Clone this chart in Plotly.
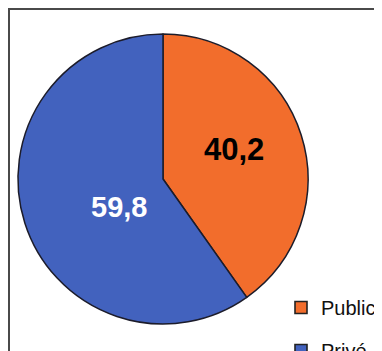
import plotly.graph_objects as go

labels = ["Public", "Privé"]
values = [40.2, 59.8]
colors = ["#F26D2C", "#4262BE"]
label_colors = ["#000000", "#FFFFFF"]

# figure size; the page adds an 8px body margin, so page pixel P = figure pixel + 8
W, H = 374, 360
OFF = 8

def px_x(x):
    return (x - OFF) / W

def px_y(y):
    return 1 - (y - OFF) / H

fig = go.Figure()

fig.add_trace(go.Pie(
    labels=labels,
    values=values,
    sort=False,
    direction="clockwise",
    rotation=0,
    marker=dict(colors=colors, line=dict(color="#1c1c2a", width=1.5)),
    textinfo="none",
    hoverinfo="label+value",
    showlegend=False,
    domain=dict(x=[px_x(18), px_x(308)], y=[px_y(324), px_y(34)]),
))

# legend entries built from the labels/colors
for lab, col in zip(labels, colors):
    fig.add_trace(go.Scatter(
        x=[None], y=[None], mode="markers", name=lab,
        legendgroup=lab,
        marker=dict(symbol="square", size=12, color=col,
                    line=dict(color="#222222", width=1.6)),
        showlegend=True,
    ))

# value labels
label_pos = [(234, 150), (119, 207)]
label_fonts = [
    dict(family="Arial", size=31, color=label_colors[0], weight="bold"),
    dict(family="Arial", size=29, color=label_colors[1], weight="bold"),
]
for v, (lx, ly), f in zip(values, label_pos, label_fonts):
    fig.add_annotation(
        x=px_x(lx), y=px_y(ly), xref="paper", yref="paper",
        text=f"{v:.1f}".replace(".", ","), showarrow=False,
        font=f, xanchor="center", yanchor="middle",
    )

# outer frame
fig.add_shape(type="rect", xref="paper", yref="paper",
              x0=px_x(9), x1=px_x(380), y0=-0.1, y1=px_y(9),
              line=dict(color="#4a4a4a", width=2))

fig.update_layout(
    width=W, height=H,
    margin=dict(l=0, r=0, t=0, b=0, autoexpand=False),
    paper_bgcolor="white", plot_bgcolor="white",
    xaxis=dict(visible=False), yaxis=dict(visible=False),
    legend=dict(
        x=px_x(281), y=px_y(288), xanchor="left", yanchor="top",
        font=dict(family="Arial", size=20, color="#111111"),
        tracegroupgap=14, bgcolor="rgba(0,0,0,0)",
    ),
)

fig.write_html("out.html")
